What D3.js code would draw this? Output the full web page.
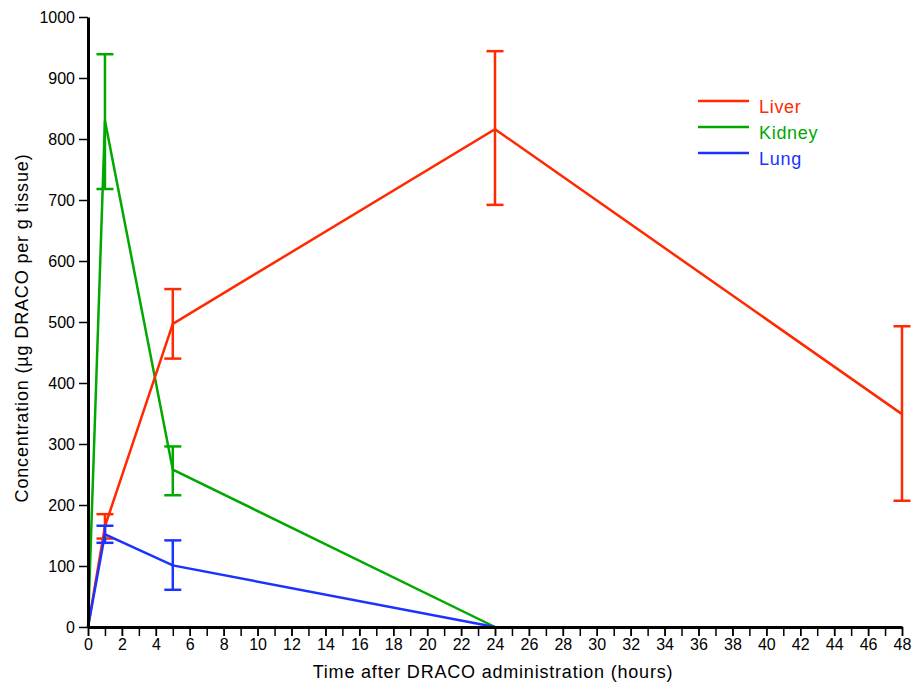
<!DOCTYPE html>
<html>
<head>
<meta charset="utf-8">
<script src="https://cdn.jsdelivr.net/npm/d3@7"></script>
<style>
  body { margin: 0; background: #fff; }
  svg text { font-family: "Liberation Sans", Arial, sans-serif; }
</style>
</head>
<body>
<svg id="chart"></svg>
<script>
// data
const hours = [0, 1, 5, 24, 48];
const liverMean = [0, 165, 497, 816, 349];
const liverLow = [null, 145, 440, 692, 207];
const liverHigh = [null, 185, 554, 944, 493];
const kidneyHours = [0, 1, 5, 24];
const kidneyMean = [0, 830, 258, 0];
const kidneyLow = [null, 718, 216, null];
const kidneyHigh = [null, 939, 296, null];
const lungHours = [0, 1, 5, 24];
const lungMean = [0, 152, 101, 0];
const lungLow = [null, 138, 61, null];
const lungHigh = [null, 166, 142, null];
const xTicks = d3.range(0, 49, 2);
const xMinorTicks = d3.range(0, 49, 1);
const yTicks = d3.range(0, 1001, 100);

const series = [
  { name: "Kidney", color: "#00a800", x: kidneyHours, y: kidneyMean, lo: kidneyLow, hi: kidneyHigh },
  { name: "Liver", color: "#ff2a00", x: hours, y: liverMean, lo: liverLow, hi: liverHigh },
  { name: "Lung", color: "#1a33ff", x: lungHours, y: lungMean, lo: lungLow, hi: lungHigh }
];
const legendOrder = ["Liver", "Kidney", "Lung"];

const W = 913, H = 685;
const svg = d3.select("#chart").attr("width", W).attr("height", H);

const x = d3.scaleLinear().domain([0, 48]).range([88, 902]);
const y = d3.scaleLinear().domain([0, 1000]).range([627, 17]);

// series lines and error bars
series.forEach(s => {
  const pts = s.x.map((h, i) => ({ h: h, v: s.y[i], lo: s.lo[i], hi: s.hi[i] }));
  const g = svg.append("g");
  g.append("path")
    .datum(pts)
    .attr("fill", "none")
    .attr("stroke", s.color)
    .attr("stroke-width", 2.5)
    .attr("d", d3.line().x(d => x(d.h)).y(d => y(d.v)));

  const eb = g.selectAll(".eb").data(pts.filter(d => d.lo != null)).join("g");
  eb.append("line")
    .attr("x1", d => x(d.h)).attr("x2", d => x(d.h))
    .attr("y1", d => y(d.lo)).attr("y2", d => y(d.hi))
    .attr("stroke", s.color).attr("stroke-width", 2.5);
  [d => d.lo, d => d.hi].forEach(f => {
    eb.append("line")
      .attr("x1", d => x(d.h) - 8.5).attr("x2", d => x(d.h) + 8.5)
      .attr("y1", d => y(f(d))).attr("y2", d => y(f(d)))
      .attr("stroke", s.color).attr("stroke-width", 2.5);
  });
});

// axes
const xMinor = svg.append("g").attr("transform", "translate(0,627)")
  .call(d3.axisBottom(x).tickValues(xMinorTicks).tickSize(9).tickSizeOuter(0).tickFormat(""));
xMinor.select(".domain").remove();
xMinor.selectAll("line").attr("stroke", "#000").attr("stroke-width", 1.5);

const xAxis = svg.append("g").attr("transform", "translate(0,627)")
  .call(d3.axisBottom(x).tickValues(xTicks).tickSize(9).tickSizeOuter(0).tickPadding(3).tickFormat(d3.format("d")));
xAxis.select(".domain").attr("stroke-width", 3);
xAxis.selectAll("line").attr("stroke-width", 1.5);
xAxis.selectAll("text").attr("font-size", 16).attr("fill", "#000");

const yAxis = svg.append("g").attr("transform", "translate(88,0)")
  .call(d3.axisLeft(y).tickValues(yTicks).tickSize(9).tickSizeOuter(0).tickPadding(4).tickFormat(d3.format("d")));
yAxis.select(".domain").attr("stroke-width", 3);
yAxis.selectAll("line").attr("stroke-width", 1.5);
yAxis.selectAll("text").attr("font-size", 16).attr("fill", "#000");

// axis titles
svg.append("text")
  .attr("x", 493).attr("y", 678)
  .attr("text-anchor", "middle")
  .attr("font-size", 18)
  .attr("letter-spacing", 0.8)
  .text("Time after DRACO administration (hours)");

svg.append("text")
  .attr("transform", "translate(28,328) rotate(-90)")
  .attr("text-anchor", "middle")
  .attr("font-size", 18)
  .attr("letter-spacing", 0.85)
  .text("Concentration (µg DRACO per g tissue)");

// legend
const leg = svg.append("g").selectAll("g")
  .data(legendOrder.map(n => series.find(s => s.name === n)))
  .join("g")
  .attr("transform", (d, i) => `translate(698,${101 + i * 26})`);
leg.append("line")
  .attr("x1", 0).attr("x2", 51)
  .attr("stroke", d => d.color).attr("stroke-width", 2.5);
leg.append("text")
  .attr("x", 61).attr("y", 12)
  .attr("font-size", 18)
  .attr("letter-spacing", 0.7)
  .attr("fill", d => d.color)
  .text(d => d.name);
</script>
</body>
</html>
